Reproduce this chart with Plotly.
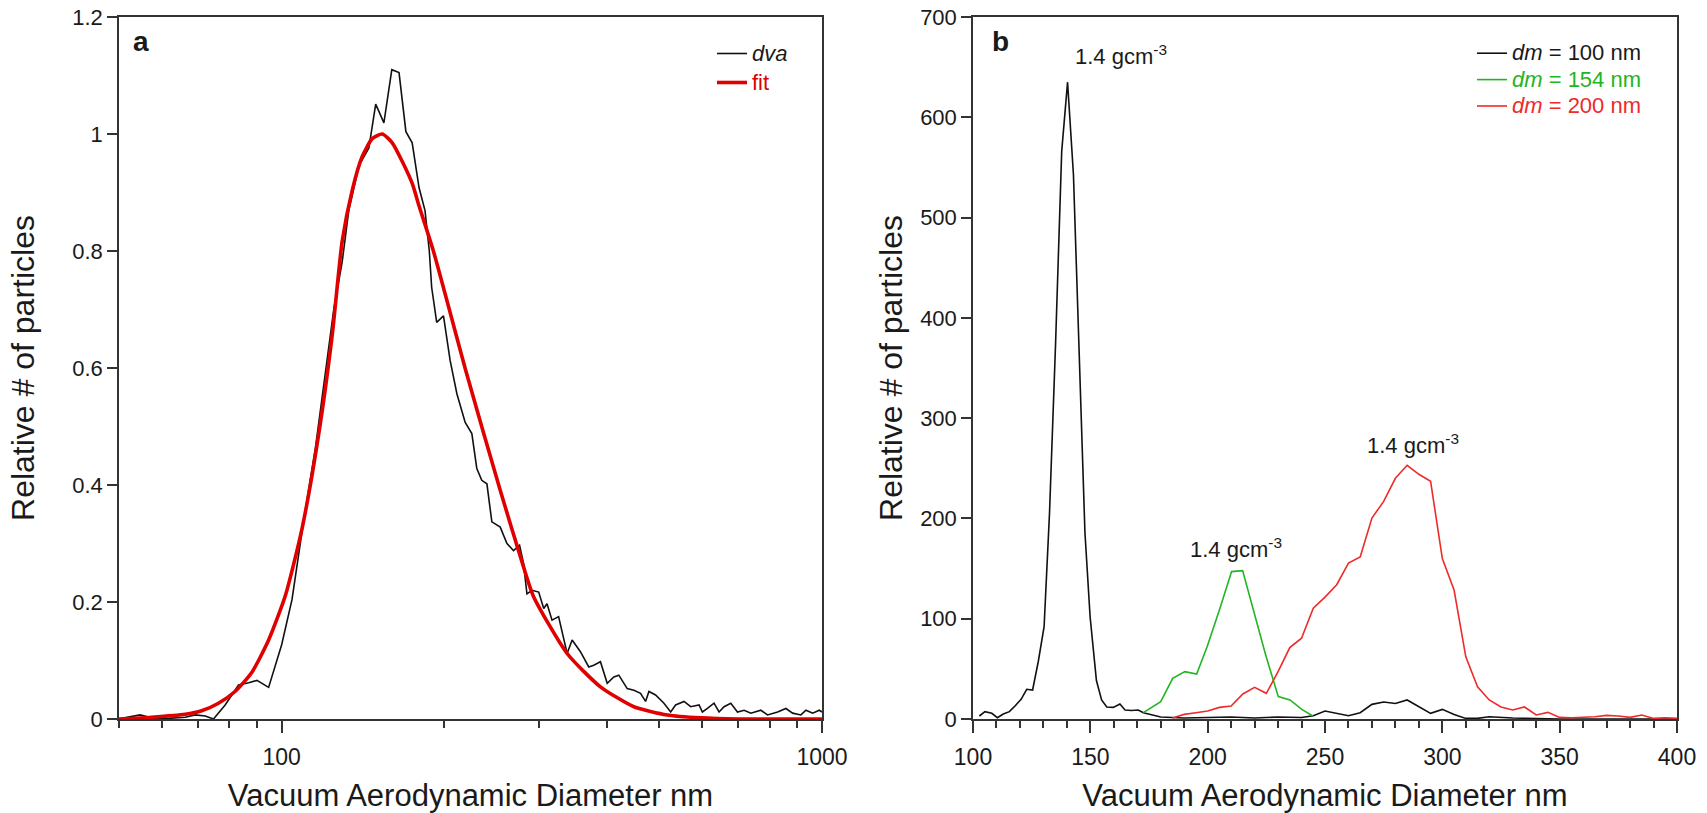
import plotly.graph_objects as go

# ---------------- Panel a data ----------------
dva_x = [49.8, 52.0, 54.7, 57.4, 61.7, 66.3, 69.2, 72.2, 74.8, 78.6,
         83.2, 86.9, 90.0, 94.6, 100.0, 104.5, 109.9, 115.5, 120.5, 124.9,
         129.4, 133.1, 139.0, 145.0, 149.3, 154.6, 159.9, 164.9, 169.8, 174.4,
         179.6, 184.2, 187.6, 189.5, 193.6, 199.3, 205.0, 211.0, 218.6, 224.9,
         229.7, 234.6, 239.8, 244.9, 253.8, 261.2, 268.6, 275.6, 280.3, 284.4,
         290.6, 299.0, 305.5, 309.8, 316.5, 325.5, 337.5, 344.8, 357.2, 370.1,
         378.1, 389.0, 400.4, 411.9, 420.7, 436.0, 448.6, 461.5, 471.5, 478.3,
         492.0, 509.9, 524.8, 535.9, 555.4, 571.5, 592.2, 600.7, 613.7, 631.2,
         644.9, 658.8, 678.0, 697.6, 717.7, 738.4, 770.6, 793.0, 827.6, 857.5,
         882.3, 914.1, 933.8, 961.0, 988.6, 1000.0]
dva_y = [0.000, 0.003, 0.007, 0.002, 0.001, 0.003, 0.007, 0.005, 0.000, 0.024,
         0.058, 0.062, 0.066, 0.054, 0.127, 0.204, 0.341, 0.464, 0.594, 0.701,
         0.781, 0.869, 0.946, 0.976, 1.051, 1.019, 1.110, 1.105, 1.004, 0.985,
         0.908, 0.869, 0.800, 0.738, 0.678, 0.689, 0.613, 0.556, 0.507, 0.488,
         0.428, 0.408, 0.402, 0.337, 0.328, 0.300, 0.288, 0.297, 0.266, 0.214,
         0.220, 0.217, 0.189, 0.197, 0.169, 0.175, 0.112, 0.135, 0.115, 0.089,
         0.092, 0.098, 0.061, 0.072, 0.075, 0.052, 0.049, 0.044, 0.030, 0.047,
         0.041, 0.027, 0.012, 0.024, 0.030, 0.021, 0.024, 0.012, 0.018, 0.027,
         0.012, 0.021, 0.027, 0.012, 0.015, 0.010, 0.015, 0.007, 0.012, 0.018,
         0.010, 0.007, 0.015, 0.010, 0.015, 0.012]

fit_x = [50.0, 57.4, 66.3, 71.1, 76.4, 82.0, 88.1, 94.6, 101.6, 109.1,
         117.1, 124.0, 129.4, 135.1, 140.9, 147.1, 153.5, 160.2, 167.2, 174.5,
         179.6, 190.9, 220.0, 253.8, 280.3, 292.6, 337.5, 389.0, 448.6, 517.0,
         596.0, 700.0, 1000.0]
fit_y = [0.000, 0.003, 0.008, 0.014, 0.027, 0.047, 0.080, 0.135, 0.211, 0.326,
         0.487, 0.655, 0.816, 0.904, 0.961, 0.992, 1.000, 0.985, 0.953, 0.915,
         0.877, 0.800, 0.590, 0.391, 0.260, 0.209, 0.112, 0.055, 0.021, 0.007,
         0.002, 0.000, 0.000]

# ---------------- Panel b data ----------------
dm100_x = [102.7, 105.1, 108.0, 110.4, 112.9, 115.5, 117.9, 120.5, 122.9, 125.4,
           127.8, 130.3, 132.6, 135.2, 137.8, 140.3, 142.8, 145.3, 147.7, 149.9,
           152.6, 154.8, 157.0, 159.8, 162.6, 164.8, 167.6, 170.4, 172.6, 180.0,
           190.0, 200.0, 210.0, 220.0, 230.0, 240.0, 245.0, 250.0, 255.0, 260.0,
           265.0, 270.0, 275.0, 280.0, 285.0, 290.0, 295.0, 300.0, 305.0, 310.0,
           315.0, 320.0, 325.0, 330.0, 340.0, 350.0, 400.0]
dm100_y = [3, 7.3, 5.7, 1.3, 5, 7.3, 13, 19.6, 29.6, 28.9,
           57.1, 92, 205, 375, 566, 635, 543, 365, 186, 102,
           38.4, 19, 12, 11.6, 15, 9, 8.5, 9, 6.3, 2,
           1, 1.5, 2, 1, 2, 1.5, 3.3, 8, 5.6, 3.3,
           6.3, 14.6, 17, 15.5, 19, 12.3, 5.6, 9.6, 4.6, 0.6,
           0.6, 2.3, 1.6, 1, 0.5, 0, 0]

dm154_x = [172.6, 180.0, 185.1, 190.3, 195.3, 199.8, 205.0, 210.2, 214.9, 220.2,
           224.9, 230.1, 235.1, 240.1, 244.8]
dm154_y = [6.3, 17.3, 40.5, 47.2, 44.9, 72.2, 108.8, 147, 148, 102.1,
           62.3, 22.3, 19, 9.6, 3]

dm200_x = [185, 190, 195, 200, 205, 210, 215, 220, 225, 230,
           235, 240, 245, 250, 255, 260, 265, 270, 275, 280,
           285, 290, 295, 300, 305, 310, 315, 320, 325, 330,
           335, 340, 345, 350, 355, 360, 365, 370, 375, 380,
           385, 390, 395, 400]
dm200_y = [1, 4.6, 6.3, 8, 11.6, 13, 25, 31.6, 25.6, 47.2,
           71.2, 80.6, 110.4, 121.5, 133.9, 155.5, 161.5, 200.4, 217, 240,
           253, 244, 237, 160, 128.6, 62, 32, 19, 12, 9,
           12, 4, 6.6, 1.6, 1.3, 1.6, 2.3, 3.6, 3, 1.6,
           4, 0.6, 1.3, 0.6]

ya_ticks = [0, 0.2, 0.4, 0.6, 0.8, 1.0, 1.2]
ya_labels = ["0", "0.2", "0.4", "0.6", "0.8", "1", "1.2"]
xa_major = [100, 1000]
xa_major_labels = ["100", "1000"]
xa_minor = [50, 60, 70, 80, 90, 200, 300, 400, 500, 600, 700, 800, 900]

annot_text = "1.4 gcm<sup>-3</sup>"
annot_pos = [(142.6, 662), (191.7, 171), (267.0, 274)]

FONT = "Arial, Liberation Sans, sans-serif"
W, H = 1707, 813
AX = "#333333"
TXT = "#1a1a1a"
RED_A = "#e00000"
RED_B = "#ee2a2a"
GREEN = "#22b522"


def lg(text, color, size):
    return '<span style="color:%s;font-size:%dpx">%s</span>' % (color, size, text)


fig = go.Figure()

fig.add_trace(go.Scatter(x=dva_x, y=dva_y, mode="lines",
                         name=lg("<i>dva</i>", TXT, 22),
                         line=dict(color="#111111", width=1.6),
                         xaxis="x", yaxis="y", legend="legend"))
fig.add_trace(go.Scatter(x=fit_x, y=fit_y, mode="lines",
                         name=lg("fit", RED_A, 22),
                         line=dict(color=RED_A, width=3.6, shape="spline", smoothing=0.6),
                         xaxis="x", yaxis="y", legend="legend"))

fig.add_trace(go.Scatter(x=dm100_x, y=dm100_y, mode="lines",
                         name=lg("<i>dm</i> = 100 nm", TXT, 22),
                         line=dict(color="#111111", width=1.6),
                         xaxis="x2", yaxis="y2", legend="legend2"))
fig.add_trace(go.Scatter(x=dm154_x, y=dm154_y, mode="lines",
                         name=lg("<i>dm</i> = 154 nm", GREEN, 22),
                         line=dict(color=GREEN, width=1.6),
                         xaxis="x2", yaxis="y2", legend="legend2"))
fig.add_trace(go.Scatter(x=dm200_x, y=dm200_y, mode="lines",
                         name=lg("<i>dm</i> = 200 nm", RED_B, 22),
                         line=dict(color=RED_B, width=1.6),
                         xaxis="x2", yaxis="y2", legend="legend2"))

ydom = [1 - 719 / H, 1 - 17 / H]
axis_common = dict(showline=True, mirror=True, linecolor=AX, linewidth=1.5,
                   showgrid=False, zeroline=False, ticks="outside",
                   tickcolor=AX, tickwidth=1.5, automargin=False)
xtickfont = dict(family=FONT, size=23, color=TXT)
ytickfont = dict(family=FONT, size=22, color=TXT)

fig.update_layout(
    width=W, height=H, margin=dict(l=0, r=0, t=0, b=0, autoexpand=False),
    paper_bgcolor="white", plot_bgcolor="white",
    font=dict(family=FONT, color=TXT),
    xaxis=dict(axis_common, type="log", range=[1.69897, 3.0],
               domain=[119 / W, 822 / W], anchor="y", tickfont=xtickfont,
               tickmode="array", tickvals=xa_major, ticktext=xa_major_labels,
               ticklen=12, ticklabelstandoff=5,
               minor=dict(tickmode="array", tickvals=xa_minor, ticks="outside",
                          ticklen=7, tickcolor=AX, tickwidth=1.5, showgrid=False),
               title=dict(text="Vacuum Aerodynamic Diameter nm", standoff=18,
                          font=dict(family=FONT, size=31, color=TXT))),
    yaxis=dict(axis_common, range=[0, 1.2], domain=ydom, anchor="x",
               tickfont=ytickfont,
               tickmode="array", tickvals=ya_ticks, ticktext=ya_labels,
               ticklen=10,
               title=dict(text="Relative # of particles", standoff=28,
                          font=dict(family=FONT, size=32, color=TXT))),
    xaxis2=dict(axis_common, range=[100, 400], domain=[973 / W, 1677 / W],
                anchor="y2", tickfont=xtickfont,
                tick0=100, dtick=50, ticklen=12, ticklabelstandoff=5,
                minor=dict(dtick=10, tick0=100, ticks="outside", ticklen=7,
                           tickcolor=AX, tickwidth=1.5, showgrid=False),
                title=dict(text="Vacuum Aerodynamic Diameter nm", standoff=18,
                           font=dict(family=FONT, size=31, color=TXT))),
    yaxis2=dict(axis_common, range=[0, 700], domain=ydom, anchor="x2",
                tickfont=ytickfont,
                tick0=0, dtick=100, ticklen=10,
                title=dict(text="Relative # of particles", standoff=8,
                           font=dict(family=FONT, size=32, color=TXT))),
    legend=dict(x=712 / W, y=1 - 34 / H, xanchor="left", yanchor="top",
                bgcolor="rgba(0,0,0,0)", borderwidth=0,
                font=dict(family=FONT, size=20, color=TXT), tracegroupgap=0),
    legend2=dict(x=1472 / W, y=1 - 35 / H, xanchor="left", yanchor="top",
                 bgcolor="rgba(0,0,0,0)", borderwidth=0,
                 font=dict(family=FONT, size=18, color=TXT), tracegroupgap=0),
    showlegend=True,
)

annotations = [
    dict(text="<b>a</b>", xref="paper", yref="paper", x=131 / W, y=1 - 42 / H,
         xanchor="left", yanchor="middle", showarrow=False,
         font=dict(family=FONT, size=28, color=TXT)),
    dict(text="<b>b</b>", xref="paper", yref="paper", x=990 / W, y=1 - 42 / H,
         xanchor="left", yanchor="middle", showarrow=False,
         font=dict(family=FONT, size=28, color=TXT)),
]
for ax_, ay_ in annot_pos:
    annotations.append(dict(text=annot_text, xref="x2", yref="y2", x=ax_, y=ay_,
                            xanchor="left", yanchor="middle", showarrow=False,
                            font=dict(family=FONT, size=22, color=TXT)))
fig.update_layout(annotations=annotations)

fig.write_html("out.html")
